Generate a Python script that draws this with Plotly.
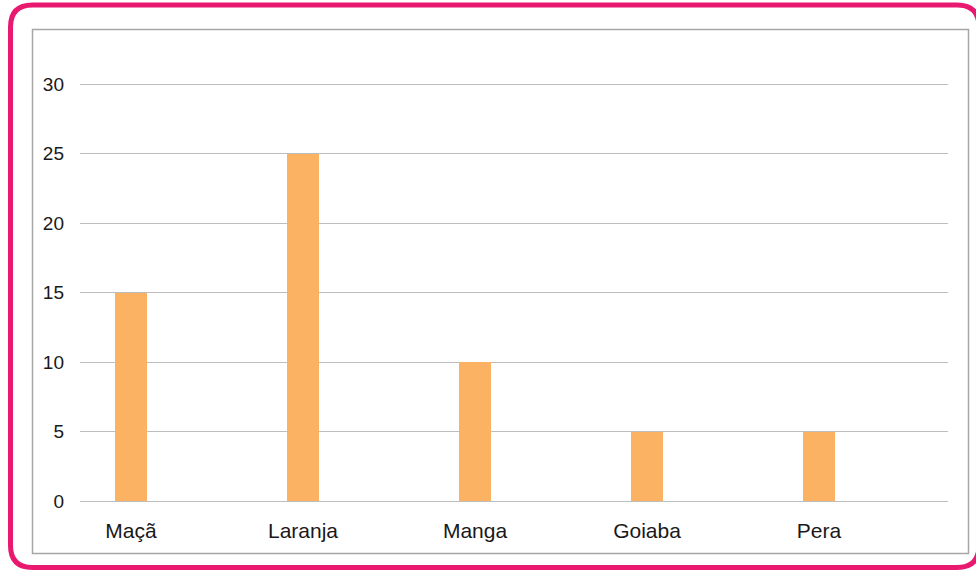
import plotly.graph_objects as go

categories = ["Maçã", "Laranja", "Manga", "Goiaba", "Pera"]
values = [15, 25, 10, 5, 5]
y_ticks = [0, 5, 10, 15, 20, 25, 30]

W, H = 976, 570
L, R, T, B = 80, 28, 81, 69
PW, PH = W - L - R, H - T - B
Y_MAX = 30 * PH / (501 - 84)

def px(x):
    return (x - L) / PW

def py(y):
    return (H - B - y) / PH

fig = go.Figure()
fig.add_trace(go.Bar(
    x=list(range(len(categories))), y=values,
    width=0.186, marker=dict(color="#FBB262", line=dict(width=0)),
    hoverinfo="skip",
))

# outer pink rounded frame
l, t, r, b, rad = 10.5, 5, 979, 567.5, 22
path = (f"M {px(l+rad)},{py(t)} L {px(r-rad)},{py(t)} Q {px(r)},{py(t)} {px(r)},{py(t+rad)} "
        f"L {px(r)},{py(b-rad)} Q {px(r)},{py(b)} {px(r-rad)},{py(b)} "
        f"L {px(l+rad)},{py(b)} Q {px(l)},{py(b)} {px(l)},{py(b-rad)} "
        f"L {px(l)},{py(t+rad)} Q {px(l)},{py(t)} {px(l+rad)},{py(t)} Z")
fig.add_shape(type="path", xref="paper", yref="paper", path=path,
              line=dict(color="#E8196E", width=5), layer="below")
# inner gray frame
fig.add_shape(type="rect", xref="paper", yref="paper",
              x0=px(32.5), x1=px(968.5), y0=py(29.5), y1=py(553.5),
              line=dict(color="#A6A6A6", width=1.5), layer="below")

fig.update_layout(
    width=W, height=H,
    margin=dict(l=L, r=R, t=T, b=B, pad=0),
    paper_bgcolor="white", plot_bgcolor="white",
    showlegend=False,
    font=dict(family="Liberation Sans, Arial, sans-serif", color="#1A1819"),
    xaxis=dict(
        range=[-51/172, 817/172],
        tickmode="array", tickvals=list(range(len(categories))), ticktext=categories,
        showgrid=False, zeroline=False, showline=False, ticks="",
        tickfont=dict(size=21), ticklabelstandoff=15, fixedrange=True,
    ),
    yaxis=dict(
        range=[0, Y_MAX], tickmode="array", tickvals=y_ticks,
        showgrid=True, gridcolor="#BDBDBD", gridwidth=1.3,
        zeroline=True, zerolinecolor="#BDBDBD", zerolinewidth=1.3,
        showline=False, ticks="", tickfont=dict(size=19),
        ticklabelstandoff=15, fixedrange=True,
    ),
    bargap=0,
)

fig.write_html("out.html", config={"displayModeBar": False},
               post_script="document.body.style.margin='0';document.body.style.overflow='hidden';")
